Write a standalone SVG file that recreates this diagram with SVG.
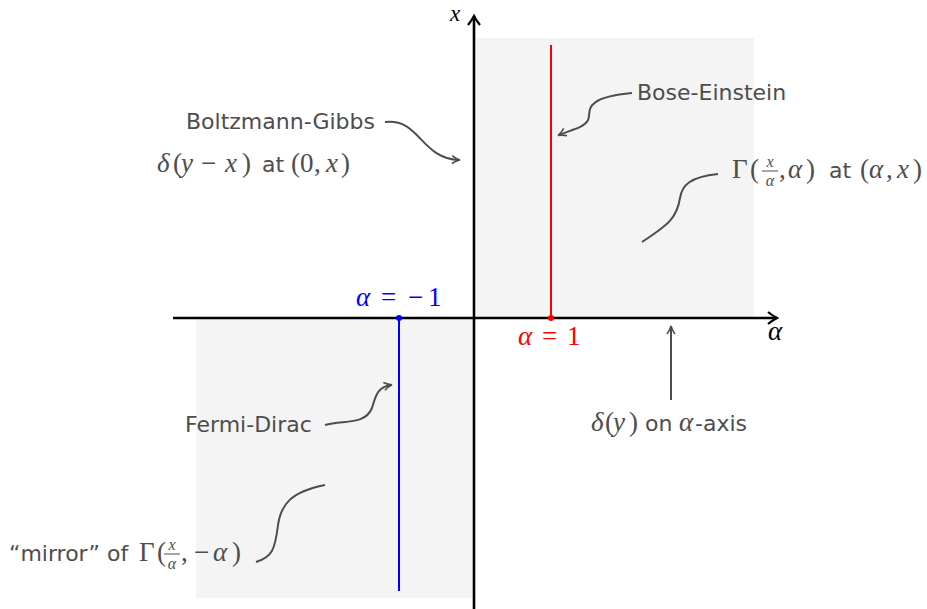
<svg xmlns="http://www.w3.org/2000/svg" width="927" height="609" viewBox="0 0 927 609">
<defs>
<marker id="ah" viewBox="0 0 10 10" refX="8" refY="5" markerWidth="10" markerHeight="10" markerUnits="userSpaceOnUse" orient="auto">
<path d="M1,1 Q5,4 9,5 Q5,6 1,9" fill="none" stroke="#4d4d4d" stroke-width="1.6"/>
</marker>
<marker id="axh" viewBox="0 0 14 14" refX="11" refY="7" markerWidth="14" markerHeight="14" markerUnits="userSpaceOnUse" orient="auto">
<path d="M2,1 Q7,5 11,7 Q7,9 2,13" fill="none" stroke="#000" stroke-width="2.2"/>
</marker>
<style>
.sans{font-family:"DejaVu Sans","Liberation Sans",sans-serif;fill:#4d4d4d;font-size:22px}
.mt{font-family:"Liberation Serif",serif;font-size:27px;fill:#4d4d4d}
.m{font-style:italic}
.fr{font-family:"Liberation Serif",serif;font-size:16px;font-style:italic;fill:#4d4d4d}
.conn{fill:none;stroke:#4d4d4d;stroke-width:2}
.axis{stroke:#000;stroke-width:2.6;fill:none}
</style>
</defs>
<rect x="476" y="38" width="278" height="280" fill="#f4f4f4"/>
<rect x="196" y="318" width="278" height="280" fill="#f4f4f4"/>

<g id="axes">
<line class="axis" x1="173" y1="318" x2="777" y2="318" marker-end="url(#axh)"/>
<line class="axis" x1="474" y1="609" x2="474" y2="16" marker-end="url(#axh)"/>
<text class="mt m" x="768" y="340" style="fill:#000">α</text>
<text class="mt m" x="450" y="21" style="fill:#000;font-size:23px">x</text>
</g>

<g id="bose-line">
<line x1="551" y1="45" x2="551" y2="318" stroke="#ff0000" stroke-width="2"/>
<circle cx="551" cy="318" r="3" fill="#ff0000"/>
<text class="mt" y="345" style="fill:#ff0000"><tspan class="m" x="518">α</tspan><tspan x="542">=</tspan><tspan x="567">1</tspan></text>
</g>
<g id="fermi-line">
<line x1="399" y1="318" x2="399" y2="591" stroke="#0000ff" stroke-width="2"/>
<circle cx="399" cy="318" r="3" fill="#0000ff"/>
<text class="mt" y="306" style="fill:#0000ff"><tspan class="m" x="356">α</tspan><tspan x="381">=</tspan><tspan x="408">−</tspan><tspan x="428">1</tspan></text>
</g>

<g id="boltzmann">
<text class="sans" x="186" y="129">Boltzmann-Gibbs</text>
<text class="mt" y="172"><tspan class="m" x="157">δ</tspan><tspan x="173">(</tspan><tspan class="m" x="181">y</tspan><tspan x="201">−</tspan><tspan class="m" x="225">x</tspan><tspan x="242">)</tspan></text>
<text class="sans" x="262" y="172">at</text>
<text class="mt" y="172"><tspan x="291">(</tspan><tspan x="300">0</tspan><tspan x="314">,</tspan><tspan class="m" x="326">x</tspan><tspan x="341">)</tspan></text>
</g>
<g id="bose">
<text class="sans" x="637" y="100">Bose-Einstein</text>
</g>
<g id="gamma">
<text class="mt" y="178"><tspan x="732">Γ</tspan><tspan x="750">(</tspan></text>
<text class="fr" x="770" y="167" text-anchor="middle">x</text>
<line x1="762" y1="171" x2="778" y2="171" stroke="#4d4d4d" stroke-width="1"/>
<text class="fr" x="770" y="186" text-anchor="middle">α</text>
<text class="mt" y="178"><tspan x="779">,</tspan><tspan class="m" x="788">α</tspan><tspan x="806">)</tspan></text>
<text class="sans" x="829" y="178">at</text>
<text class="mt" y="178"><tspan x="860">(</tspan><tspan class="m" x="869">α</tspan><tspan x="886">,</tspan><tspan class="m" x="897">x</tspan><tspan x="913">)</tspan></text>
</g>
<g id="fermi">
<text class="sans" x="185" y="432">Fermi-Dirac</text>
</g>
<g id="delta">
<text class="mt" y="431"><tspan class="m" x="591">δ</tspan><tspan x="605">(</tspan><tspan class="m" x="613">y</tspan><tspan x="629">)</tspan></text>
<text class="sans" x="645" y="431">on</text>
<text class="mt m" x="679" y="431">α</text>
<text class="sans" x="695" y="431">-axis</text>
</g>
<g id="mirror">
<text class="sans" x="9" y="561">“mirror” of</text>
<text class="mt" y="561"><tspan x="139">Γ</tspan><tspan x="157">(</tspan></text>
<text class="fr" x="172" y="550" text-anchor="middle">x</text>
<line x1="164" y1="554" x2="180" y2="554" stroke="#4d4d4d" stroke-width="1"/>
<text class="fr" x="172" y="569" text-anchor="middle">α</text>
<text class="mt" y="561"><tspan x="181">,</tspan><tspan x="194">−</tspan><tspan class="m" x="213">α</tspan><tspan x="232">)</tspan></text>
</g>

<g id="connectors">
<path class="conn" d="M385,122 C420,118 420,158 459,160" marker-end="url(#ah)"/>
<path class="conn" d="M632,93 C580,98 592,112 588,120 C584,128 570,130 559,135" marker-end="url(#ah)"/>
<path class="conn" d="M718,174 C690,177 682,185 680,198 C677,218 668,225 642,242"/>
<path class="conn" d="M325,425 C345,420 365,425 372,408 C376,396 376,388 391,385" marker-end="url(#ah)"/>
<path class="conn" d="M325,485 C290,492 281,505 278,525 C275,550 272,557 256,562"/>
<path class="conn" d="M671,400 L671,327" marker-end="url(#ah)"/>
</g>
</svg>
